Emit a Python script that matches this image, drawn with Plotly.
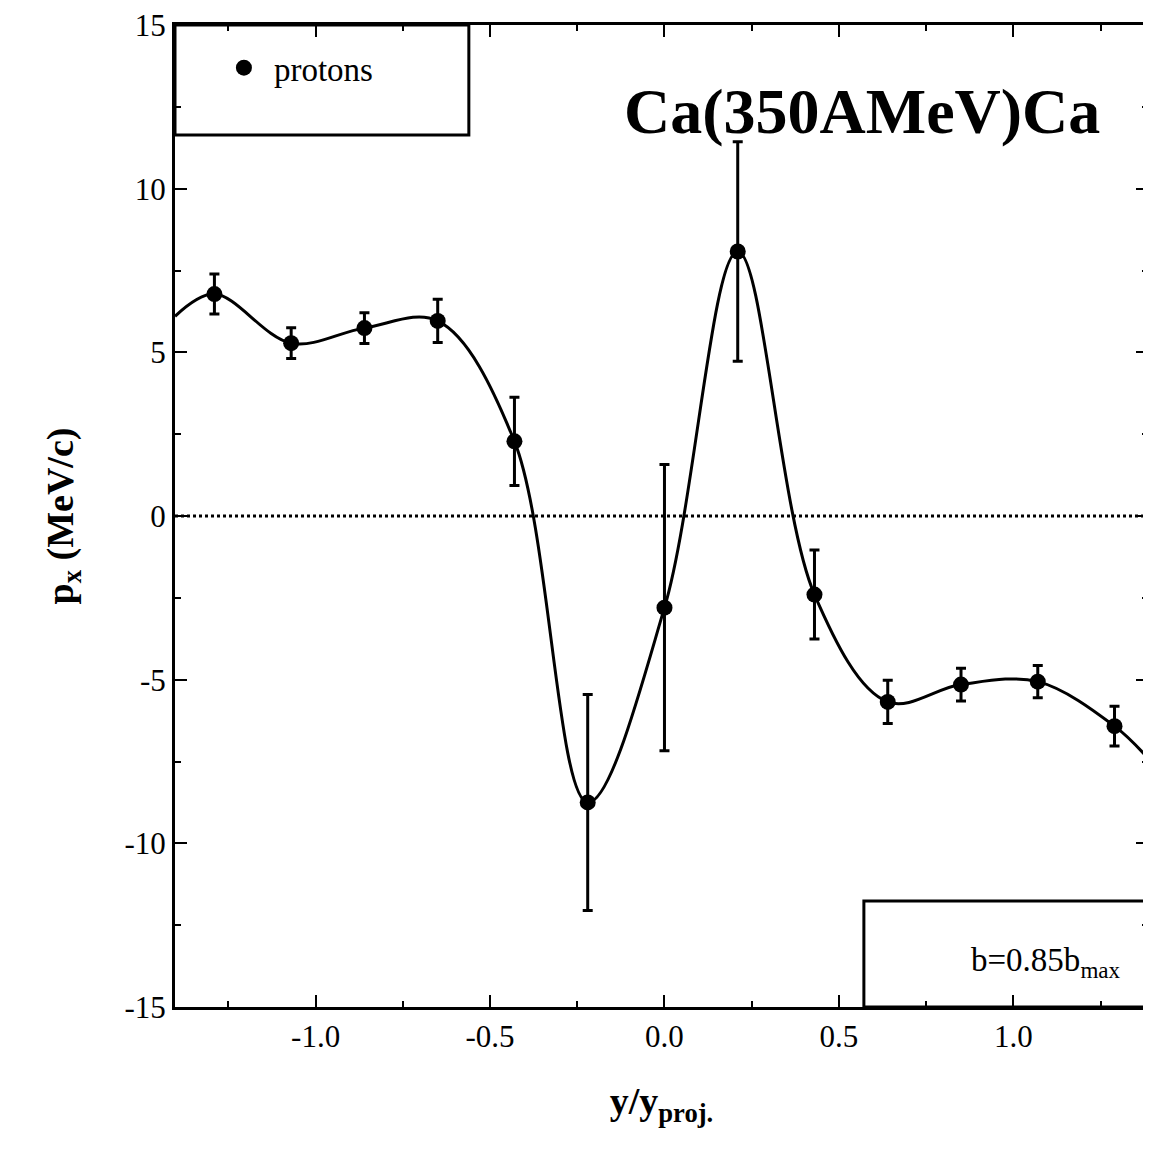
import plotly.graph_objects as go

# data
y_rap = [-1.29, -1.07, -0.86, -0.65, -0.43, -0.22, 0.0, 0.21, 0.43, 0.64, 0.85, 1.07, 1.29]
px_val = [6.78, 5.28, 5.74, 5.96, 2.28, -8.75, -2.8, 8.08, -2.4, -5.68, -5.15, -5.06, -6.42]
px_err = [0.61, 0.47, 0.47, 0.66, 1.35, 3.3, 4.37, 3.35, 1.36, 0.66, 0.5, 0.49, 0.61]

# smooth guide curve (data points plus the two edge values)
curve_x = [-1.403] + y_rap + [1.386]
curve_y = [6.1] + px_val + [-7.4]

y_ticks = [-15, -10, -5, 0, 5, 10, 15]
y_labels = ["-15", "-10", "-5", "0", "5", "10", "15"]

serif = "Liberation Serif"

fig = go.Figure()
fig.add_trace(go.Scatter(x=curve_x, y=curve_y, mode="lines", line=dict(color="black", width=3, shape="spline", smoothing=1.0),
                         showlegend=False, hoverinfo="skip"))
fig.add_trace(go.Scatter(x=y_rap, y=px_val, mode="markers", name="protons",
                         marker=dict(color="black", size=16),
                         error_y=dict(type="data", array=px_err, color="black", thickness=3, width=5)))

axis_common = dict(showgrid=False, zeroline=False, showline=True, linecolor="black", linewidth=3,
                   mirror="allticks", ticks="inside", ticklen=12, tickwidth=2, tickcolor="black",
                   tickfont=dict(family=serif, size=31, color="black"))

fig.update_xaxes(range=[-1.403, 1.386], tickvals=[-1.0, -0.5, 0.0, 0.5, 1.0],
                 ticktext=["-1.0", "-0.5", "0.0", "0.5", "1.0"],
                 minor=dict(dtick=0.25, tick0=0, ticks="inside", ticklen=6, tickwidth=2, tickcolor="black"),
                 title=dict(text="<b>y/y<sub>proj.</sub></b>", font=dict(family=serif, size=38, color="black"), standoff=35),
                 **axis_common)
fig.update_yaxes(range=[-15, 15], tickvals=y_ticks, ticktext=y_labels, ticklabeloverflow="allow",
                 minor=dict(dtick=2.5, tick0=0, ticks="inside", ticklen=6, tickwidth=2, tickcolor="black"),
                 title=dict(text="<b>p<sub>x</sub> (MeV/c)</b>", font=dict(family=serif, size=38, color="black"), standoff=40),
                 **axis_common)

fig.add_hline(y=0, line=dict(color="black", width=3, dash="dot"))
fig.add_shape(type="rect", xref="paper", yref="paper", x0=0, x1=0.302, y0=0.888, y1=1,
              line=dict(color="black", width=3), fillcolor="white", layer="below")
fig.add_shape(type="rect", xref="paper", yref="paper", x0=0.708, x1=1.0, y0=0, y1=0.108,
              line=dict(color="black", width=3), fillcolor="white", layer="below")

fig.add_annotation(text="<b>Ca(350AMeV)Ca</b>", xref="paper", yref="paper", x=0.953, y=0.912,
                   xanchor="right", yanchor="middle",
                   showarrow=False, font=dict(family=serif, size=64, color="black"))
fig.add_annotation(text="b=0.85b<sub>max</sub>", xref="paper", yref="paper", x=0.974, y=0.045,
                   xanchor="right", yanchor="middle",
                   showarrow=False, font=dict(family=serif, size=33, color="black"))

fig.update_layout(width=1143, height=1130, margin=dict(l=167, r=0, t=14, b=131),
                  paper_bgcolor="white", plot_bgcolor="white",
                  legend=dict(x=0.04, y=0.985, xanchor="left", yanchor="top", bgcolor="rgba(0,0,0,0)",
                              itemwidth=50,
                              font=dict(family=serif, size=33, color="black")))

fig.write_html("out.html")
